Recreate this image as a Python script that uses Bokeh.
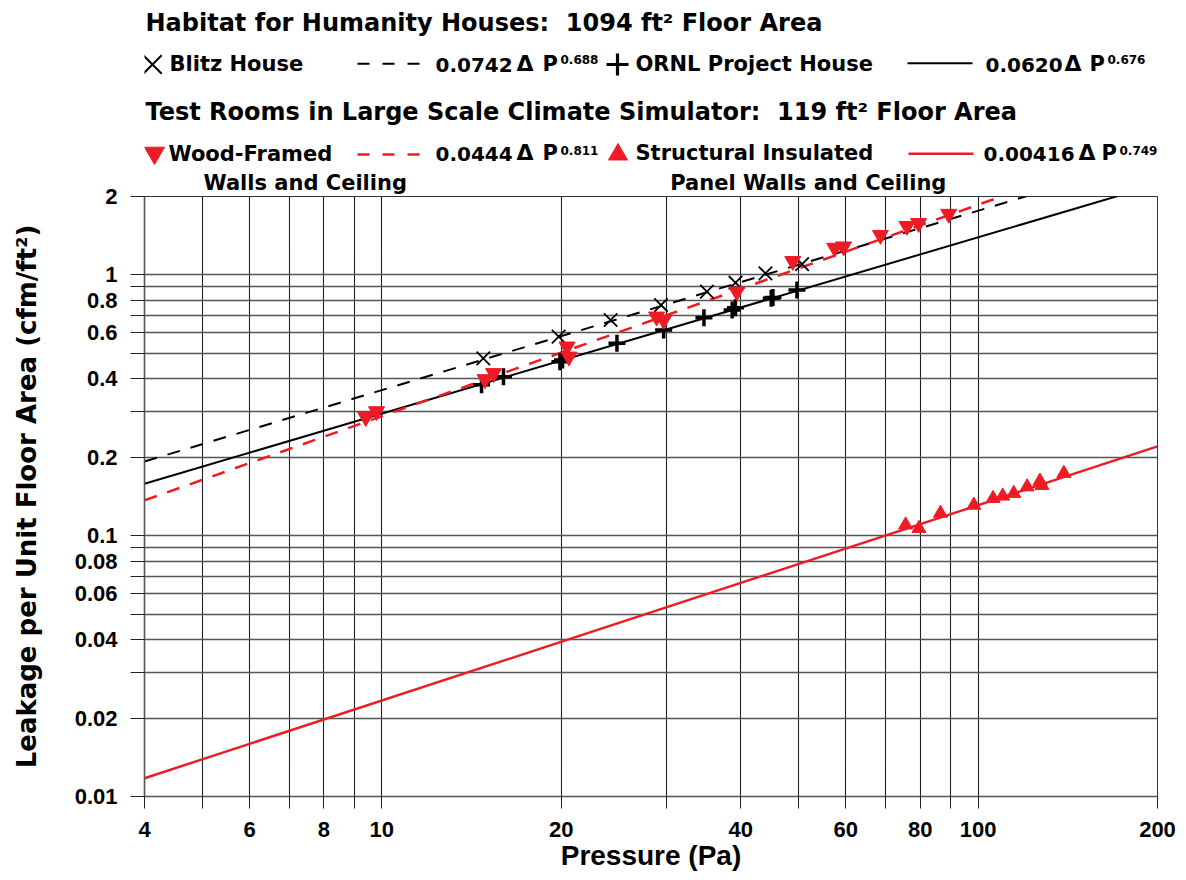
from bokeh.plotting import figure
from bokeh.models import Range1d, FixedTicker, CustomJSTickFormatter, Title
from bokeh.layouts import column
from bokeh.embed import file_html
from bokeh.resources import INLINE
from bokeh.core.properties import value

# ---------------- data ----------------
pressure_range = [4, 200]
leak_range = [0.01, 2]

x_grid = [4, 5, 6, 7, 8, 9, 10, 20, 30, 40, 50, 60, 70, 80, 90, 100, 200]
x_labels = [4, 6, 8, 10, 20, 40, 60, 80, 100, 200]
y_grid = [0.01, 0.02, 0.03, 0.04, 0.05, 0.06, 0.07, 0.08, 0.09,
          0.1, 0.2, 0.3, 0.4, 0.5, 0.6, 0.7, 0.8, 0.9, 1, 2]
y_labels = [0.01, 0.02, 0.04, 0.06, 0.08, 0.1, 0.2, 0.4, 0.6, 0.8, 1, 2]

# Blitz House (x markers)
blitz_p = [14.8, 19.8, 24.2, 29.4, 35.1, 39.2, 44.0, 50.7]
blitz_l = [0.479, 0.580, 0.672, 0.767, 0.863, 0.934, 1.015, 1.10]

# ORNL Project House (+ markers)
ornl_p = [14.7, 16.0, 19.9, 20.1, 24.8, 29.7, 34.7, 38.7, 39.2, 45.0, 45.3, 49.7]
ornl_l = [0.379, 0.407, 0.465, 0.472, 0.547, 0.615, 0.686, 0.734, 0.749, 0.814, 0.82, 0.876]

# Wood-Framed walls and ceiling (down triangles)
wood_p = [9.4, 9.8, 14.9, 15.4, 20.45, 20.6, 28.9, 29.7, 39.4, 48.9,
          57.5, 59.5, 68.6, 76.0, 79.5, 89.3]
wood_l = [0.285, 0.300, 0.398, 0.420, 0.531, 0.486, 0.692, 0.672, 0.863, 1.13,
          1.27, 1.285, 1.423, 1.54, 1.58, 1.714]

# Structural insulated panel walls and ceiling (up triangles)
sip_p = [75.6, 79.6, 86.5, 98.4, 106, 110, 114.8, 120.9, 127, 128, 139.3]
sip_l = [0.110, 0.1067, 0.122, 0.131, 0.139, 0.142, 0.1454, 0.154, 0.162, 0.156, 0.1735]

# power-law fits  Q = C * dP^n  (from the legend)
fit_coef = [0.0742, 0.0620, 0.0444, 0.00416]
fit_expo = [0.688, 0.676, 0.811, 0.749]
fit_coef_text = ["0.0742", "0.0620", "0.0444", "0.00416"]
fit_expo_text = ["0.688", "0.676", "0.811", "0.749"]

title_1 = "Habitat for Humanity Houses:\u00a0 1094 ft² Floor Area"
title_2 = "Test Rooms in Large Scale Climate Simulator:\u00a0 119 ft² Floor Area"
series_names = ["Blitz House", "ORNL Project House", "Wood-Framed", "Structural Insulated"]
sub_names = ["Walls and Ceiling", "Panel Walls and Ceiling"]
x_title = "Pressure (Pa)"
y_title = "Leakage per Unit Floor Area (cfm/ft²)"

RED = "#ed1c24"
HFONT = "DejaVu Sans"
AFONT = "Liberation Sans"

W = 1186
FRAME_L, FRAME_R = 144, 1157
FRAME_T, FRAME_B = 196, 796
HEADER_H = 166

# ---------------- header (titles + legend) ----------------
h = figure(width=W, height=HEADER_H, title=None,
           x_range=Range1d(FRAME_L, FRAME_R), y_range=Range1d(HEADER_H, 0),
           output_backend="svg", toolbar_location=None,
           x_axis_location=None, y_axis_location=None,
           min_border_left=FRAME_L, min_border_right=W - FRAME_R,
           min_border_top=0, min_border_bottom=0)
h.outline_line_color = None
h.grid.visible = False


def htext(xs, ys, texts, size, bold=True, color="black"):
    # ys are centre lines of the text (middle baseline)
    h.text(x=xs, y=ys, text=texts,
           text_font=value(HFONT), text_font_style="bold" if bold else "normal",
           text_font_size=f"{size}px", text_baseline="middle", text_align="left",
           text_color=color)


htext([145, 145], [22.7, 111.7], [title_1, title_2], 24)
htext([169, 635, 168, 635], [63.7, 63.7, 153.7, 152.7], series_names, 21)

coef_x = [435, 985, 435, 983]
coef_y = [64.1, 64.1, 153.1, 153.1]
delta_x = [516, 1064, 516, 1078]
p_x = [542, 1089, 542, 1101]
sup_x = [560, 1107, 560, 1119]
sup_y = [59.1, 59.1, 149.8, 149.8]

htext(coef_x, coef_y, fit_coef_text, 20)
htext(delta_x, [63.4, 63.4, 152.4, 152.4], ["Δ"] * 4, 22)
htext(p_x, [63.7, 63.7, 152.7, 152.7], ["P"] * 4, 21)
htext(sup_x, sup_y, fit_expo_text, 12)

# legend symbols
h.scatter(x=[152], y=[64], marker="x", size=26, line_color="black", line_width=2)
h.scatter(x=[617], y=[64], marker="cross", size=22, line_color="black", line_width=3.2)
h.scatter(x=[154], y=[152.5], marker="inverted_triangle", size=20,
          fill_color=RED, line_color=RED)
h.scatter(x=[617.5], y=[154], marker="triangle", size=19,
          fill_color=RED, line_color=RED)
h.line(x=[357, 420], y=[63.3, 63.3], line_color="black", line_width=2, line_dash="12 13")
h.line(x=[907, 972], y=[62.7, 62.7], line_color="black", line_width=2)
h.line(x=[357, 420], y=[154, 154], line_color=RED, line_width=2.5, line_dash="12 13")
h.line(x=[908, 973], y=[153.3, 153.3], line_color=RED, line_width=2.5)

# ---------------- main log-log plot ----------------
p = figure(width=W, height=880 - HEADER_H, title=None,
           x_axis_type="log", y_axis_type="log",
           x_range=Range1d(*pressure_range), y_range=Range1d(*leak_range),
           output_backend="svg", toolbar_location=None,
           min_border_left=FRAME_L, min_border_right=W - FRAME_R,
           min_border_top=FRAME_T - HEADER_H, min_border_bottom=880 - FRAME_B)
p.outline_line_color = "#333333"
p.outline_line_width = 1
p.background_fill_color = "white"
p.border_fill_color = "white"

# the two sub-captions sit on one line just above the frame
caption = sub_names[0] + "\u00a0" * 36 + sub_names[1]
p.add_layout(Title(text=caption, align="left", offset=203 - FRAME_L, standoff=3,
                   text_font=HFONT, text_font_style="bold", text_font_size="21px",
                   text_color="black"), "above")

xt = FixedTicker(ticks=x_grid, minor_ticks=[])
yt = FixedTicker(ticks=y_grid, minor_ticks=[])
p.xaxis.ticker = xt
p.yaxis.ticker = yt
p.xgrid.ticker = xt
p.ygrid.ticker = yt

fmt_code = """
for (const v of labels) { if (Math.abs(tick - v) <= 1e-6 * v) { return String(v); } }
return "";
"""
p.xaxis.formatter = CustomJSTickFormatter(args=dict(labels=x_labels), code=fmt_code)
p.yaxis.formatter = CustomJSTickFormatter(args=dict(labels=y_labels), code=fmt_code)

p.xgrid.grid_line_color = "#222222"
p.xgrid.grid_line_width = 1.1
p.ygrid.grid_line_color = "#555555"
p.ygrid.grid_line_width = 1.6

for ax in (p.xaxis, p.yaxis):
    ax.major_label_text_font = AFONT
    ax.major_label_text_font_style = "bold"
    ax.major_label_text_font_size = "22px"
    ax.major_label_text_color = "black"
    ax.major_tick_in = 0
    ax.minor_tick_in = 0
    ax.minor_tick_out = 0
    ax.major_tick_line_color = "#222222"
    ax.axis_line_color = "#555555"
    ax.axis_line_width = 1.6
    ax.axis_label_text_color = "black"
    ax.axis_label_text_font_style = "bold"

p.xaxis.major_tick_out = 12
p.xaxis.major_label_standoff = 13
p.xaxis.axis_label = x_title
p.xaxis.axis_label_text_font = AFONT
p.xaxis.axis_label_text_font_size = "28px"
p.xaxis.axis_label_standoff = 0

p.yaxis.major_tick_out = 14
p.yaxis.major_label_standoff = 13
p.yaxis.axis_label = y_title
p.yaxis.axis_label_text_font = HFONT
p.yaxis.axis_label_text_font_size = "26px"
p.yaxis.axis_label_standoff = 30

# fitted lines (straight on log-log axes: evaluate at the range ends)
fit_styles = [("black", "13 11", 2), ("black", "solid", 2), (RED, "13 11", 2.5), (RED, "solid", 2.4)]
for c, n, (col, dash, lw) in zip(fit_coef, fit_expo, fit_styles):
    xs = list(pressure_range)
    ys = [c * x ** n for x in xs]
    p.line(xs, ys, line_color=col, line_width=lw, line_dash=dash)

# data points
p.scatter(blitz_p, blitz_l, marker="x", size=19, line_color="black", line_width=1.8)
p.scatter(ornl_p, ornl_l, marker="cross", size=17, line_color="black", line_width=3.5)
p.scatter(wood_p, wood_l, marker="inverted_triangle", size=16,
          fill_color=RED, line_color=RED)
p.scatter(sip_p, sip_l, marker="triangle", size=14,
          fill_color=RED, line_color=RED)

layout = column(h, p, spacing=0)
open("out.html", "w", encoding="utf-8").write(file_html(layout, INLINE, "Air leakage"))
